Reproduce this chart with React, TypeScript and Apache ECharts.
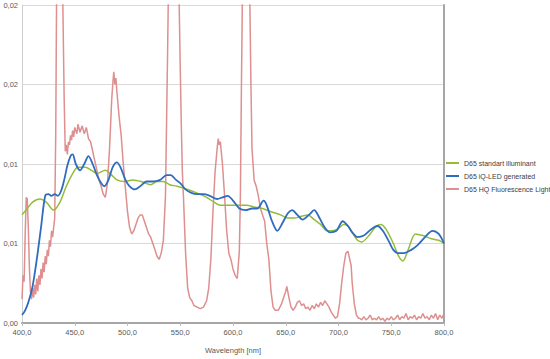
import React, { useEffect, useRef } from "react";
import * as echarts from "echarts";

// ---- data (wavelength nm, relative spectral power) ----
const seriesNames = [
  "D65 standart illuminant",
  "D65 iQ-LED generated",
  "D65 HQ Fluorescence Light",
];

const d65Standard: [number, number][] = [
  [400, 0.0068], [405, 0.0072], [410, 0.0076], [417, 0.0078], [423, 0.0076],
  [430, 0.0071], [436, 0.0076], [442, 0.0086], [448, 0.0094], [453, 0.0098],
  [460, 0.0098], [466, 0.0096], [471, 0.0094], [479, 0.0096], [485, 0.0093],
  [490, 0.0090], [497, 0.0089], [505, 0.0090], [513, 0.0089], [522, 0.0087],
  [528, 0.0089], [534, 0.0089], [540, 0.0087], [547, 0.0086], [557, 0.0084],
  [565, 0.0082], [575, 0.0079], [582, 0.0076], [588, 0.0074], [595, 0.0074],
  [604, 0.0074], [613, 0.0074], [620, 0.0073], [628, 0.0072], [636, 0.0070],
  [645, 0.0068], [652, 0.0066], [658, 0.0066], [664, 0.0067], [671, 0.0068],
  [677, 0.0065], [683, 0.0062], [689, 0.0058], [693, 0.0058], [699, 0.0059],
  [705, 0.0062], [709, 0.0061], [714, 0.0056], [718, 0.0052], [722, 0.0051],
  [730, 0.0056], [736, 0.0061], [740, 0.0062], [745, 0.0059], [752, 0.0050],
  [757, 0.0042], [761, 0.0039], [766, 0.0046], [773, 0.0056], [780, 0.0055],
  [788, 0.0053], [795, 0.0052], [800, 0.0050],
];

const iqLed: [number, number][] = [
  [400, 0.0005], [403, 0.0008], [406, 0.0013], [410, 0.0023], [414, 0.0040],
  [418, 0.0060], [422, 0.0080], [425, 0.0081], [428, 0.0080], [431, 0.0081],
  [434, 0.0080], [437, 0.0083], [440, 0.0090], [443, 0.0099], [446, 0.0105],
  [448, 0.0106], [451, 0.0100], [455, 0.0096], [459, 0.0100], [463, 0.0105],
  [467, 0.0100], [471, 0.0093], [475, 0.0088], [478, 0.0086], [482, 0.0090],
  [486, 0.0098], [490, 0.0101], [494, 0.0097], [498, 0.0090], [502, 0.0086],
  [507, 0.0084], [512, 0.0086], [518, 0.0089], [524, 0.0089], [531, 0.0090],
  [537, 0.0093], [541, 0.0093], [546, 0.0090], [550, 0.0088], [555, 0.0084],
  [560, 0.0082], [566, 0.0081], [572, 0.0081], [578, 0.0080], [585, 0.0078],
  [590, 0.0079], [595, 0.0080], [600, 0.0077], [606, 0.0072], [612, 0.0071],
  [618, 0.0072], [623, 0.0072], [629, 0.0077], [632, 0.0074], [637, 0.0064],
  [642, 0.0058], [647, 0.0063], [652, 0.0069], [656, 0.0071], [661, 0.0068],
  [666, 0.0065], [672, 0.0068], [677, 0.0071], [682, 0.0066], [687, 0.0060],
  [692, 0.0057], [698, 0.0058], [704, 0.0064], [709, 0.0061], [713, 0.0057],
  [718, 0.0054], [724, 0.0055], [731, 0.0059], [737, 0.0061], [742, 0.0058],
  [748, 0.0051], [752, 0.0046], [756, 0.0044], [762, 0.0044], [769, 0.0046],
  [775, 0.0049], [782, 0.0054], [789, 0.0058], [795, 0.0056], [800, 0.0050],
];

const hqFluorescent: [number, number][] = [
  [400, 0.0015], [401, 0.0030], [402, 0.0026], [403, 0.0055], [404, 0.0079],
  [405, 0.0078], [406, 0.0060], [407, 0.0035], [408, 0.0020], [409, 0.0015],
  [410, 0.0022], [411, 0.0016], [412, 0.0024], [413, 0.0018], [414, 0.0028],
  [415, 0.0020], [416, 0.0030], [417, 0.0024], [418, 0.0034], [419, 0.0028],
  [420, 0.0038], [421, 0.0032], [422, 0.0042], [423, 0.0037], [424, 0.0046],
  [425, 0.0042], [426, 0.0052], [427, 0.0048], [428, 0.0058], [429, 0.0054],
  [430, 0.0060], [431, 0.0066], [432, 0.0120], [433, 0.0230], [434.5, 0.0350],
  [437, 0.0350], [438.5, 0.0210], [440, 0.0140], [441, 0.0108], [442, 0.0112],
  [443, 0.0106], [444, 0.0114], [445, 0.0112], [446, 0.0118], [447, 0.0115],
  [448, 0.0121], [449, 0.0117], [450, 0.0123], [452, 0.0119], [453, 0.0125],
  [455, 0.0120], [457, 0.0124], [459, 0.0119], [461, 0.0123], [463, 0.0116],
  [465, 0.0114], [467, 0.0108], [469, 0.0102], [471, 0.0096], [473, 0.0090],
  [475, 0.0086], [477, 0.0081], [479, 0.0079], [481, 0.0088], [483, 0.0110],
  [485, 0.0140], [486, 0.0150], [487, 0.0158], [488, 0.0150], [489, 0.0154],
  [490, 0.0145], [492, 0.0130], [494, 0.0118], [496, 0.0100], [498, 0.0085],
  [500, 0.0070], [502, 0.0060], [504, 0.0056], [506, 0.0058], [508, 0.0062],
  [510, 0.0066], [512, 0.0068], [514, 0.0068], [516, 0.0064], [518, 0.0060],
  [520, 0.0056], [522, 0.0054], [524, 0.0050], [526, 0.0046], [528, 0.0042],
  [530, 0.0040], [532, 0.0044], [534, 0.0052], [536, 0.0080], [538, 0.0170],
  [539, 0.0220], [541, 0.0380], [544, 0.0500], [546.5, 0.0380], [548.5, 0.0220],
  [550, 0.0160], [551, 0.0125], [552, 0.0095], [553, 0.0080], [555, 0.0045],
  [557, 0.0022], [559, 0.0016], [561, 0.0014], [563, 0.0011], [566, 0.0010],
  [569, 0.0009], [572, 0.0010], [575, 0.0014], [577, 0.0022], [579, 0.0040],
  [581, 0.0070], [583, 0.0095], [585, 0.0110], [586, 0.0116], [587, 0.0112],
  [588, 0.0114], [590, 0.0100], [592, 0.0080], [594, 0.0058], [596, 0.0044],
  [598, 0.0040], [600, 0.0034], [602, 0.0030], [604, 0.0028], [606, 0.0045],
  [607, 0.0080], [608, 0.0150], [609, 0.0210], [611, 0.0350], [613, 0.0400],
  [615, 0.0300], [616, 0.0200], [617, 0.0150], [618, 0.0110], [620, 0.0090],
  [622, 0.0086], [624, 0.0080], [626, 0.0072], [628, 0.0068], [630, 0.0064],
  [632, 0.0050], [634, 0.0040], [636, 0.0020], [638, 0.0010], [640, 0.0008],
  [643, 0.0008], [646, 0.0012], [648, 0.0016], [650, 0.0020], [651, 0.0023],
  [653, 0.0016], [655, 0.0010], [657, 0.0008], [659, 0.0010], [661, 0.0013],
  [663, 0.0014], [665, 0.0011], [667, 0.0012], [669, 0.0009], [671, 0.0010],
  [673, 0.0008], [675, 0.0011], [677, 0.0009], [679, 0.0012], [681, 0.0010],
  [683, 0.0013], [685, 0.0011], [687, 0.0014], [689, 0.0012], [691, 0.0010],
  [693, 0.0007], [695, 0.0005], [697, 0.0003], [699, 0.0004], [701, 0.0012],
  [703, 0.0025], [705, 0.0036], [707, 0.0044], [709, 0.0045], [710, 0.0042],
  [712, 0.0036], [713, 0.0025], [715, 0.0012], [717, 0.0005], [719, 0.0003],
  [720, 0.0003], [722, 0.0002], [724, 0.0004], [726, 0.0002], [728, 0.0003],
  [730, 0.0005], [732, 0.0002], [734, 0.0003], [736, 0.0002], [738, 0.0004],
  [740, 0.0002], [742, 0.0003], [744, 0.0001], [746, 0.0003], [748, 0.0002],
  [750, 0.0004], [752, 0.0002], [754, 0.0003], [756, 0.0005], [758, 0.0002],
  [760, 0.0004], [762, 0.0003], [764, 0.0006], [766, 0.0002], [768, 0.0004],
  [770, 0.0003], [772, 0.0005], [774, 0.0002], [776, 0.0004], [778, 0.0003],
  [780, 0.0006], [782, 0.0003], [784, 0.0004], [786, 0.0002], [788, 0.0005],
  [790, 0.0003], [792, 0.0006], [794, 0.0002], [796, 0.0005], [798, 0.0003],
  [800, 0.0006],
];

const yTickLabels = ["0,00", "0,01", "0,01", "0,02", "0,02"];
const xAxisTitle = "Wavelength [nm]";

const colors = ["#94bb3a", "#2f6cbf", "#de8f8f"];

export default function App() {
  const ref = useRef<HTMLDivElement>(null);

  useEffect(() => {
    if (!ref.current) return;
    const chart = echarts.init(ref.current, null, { renderer: "svg" });
    const font = "'Liberation Sans', Arial, sans-serif";
    const labelColor = "#595959";

    chart.setOption({
      animation: false,
      backgroundColor: "#ffffff",
      grid: { left: 22, right: 106, top: 5, bottom: 31 },
      legend: {
        orient: "vertical",
        left: 446,
        top: 158,
        icon: "rect",
        itemWidth: 13,
        itemHeight: 2,
        itemGap: 3,
        padding: 0,
        textStyle: {
          fontFamily: font,
          fontSize: 7,
          color: "#404040",
          lineHeight: 10,
        },
        data: seriesNames,
      },
      xAxis: [
        {
          type: "value",
          min: 400,
          max: 800,
          interval: 50,
          name: xAxisTitle,
          nameLocation: "middle",
          nameGap: 23,
          nameTextStyle: { fontFamily: font, fontSize: 7.5, color: labelColor },
          axisLine: { show: true, lineStyle: { color: "#bfbfbf", width: 1 } },
          axisTick: { show: true, length: 3, lineStyle: { color: "#bfbfbf" } },
          axisLabel: {
            fontFamily: font,
            fontSize: 7.5,
            color: labelColor,
            margin: 5,
            formatter: (v: number) => v.toFixed(1).replace(".", ","),
          },
          splitLine: { show: false },
        },
        {
          type: "value",
          position: "top",
          min: 400,
          max: 800,
          axisLine: { show: true, lineStyle: { color: "#a6a6a6", width: 2 } },
          axisTick: { show: false },
          axisLabel: { show: false },
          splitLine: { show: false },
        },
      ],
      yAxis: [
        {
          type: "value",
          min: 0,
          max: 0.02,
          interval: 0.005,
          axisLine: { show: true, lineStyle: { color: "#d0d0d0", width: 1 } },
          axisTick: { show: false },
          axisLabel: {
            fontFamily: font,
            fontSize: 7.5,
            color: labelColor,
            margin: 4,
            formatter: (v: number) => yTickLabels[Math.round(v / 0.005)] ?? "",
          },
          splitLine: { show: true, lineStyle: { color: "#d9d9d9", width: 1 } },
        },
        {
          type: "value",
          position: "right",
          min: 0,
          max: 0.02,
          axisLine: { show: true, lineStyle: { color: "#a6a6a6", width: 2 } },
          axisTick: { show: false },
          axisLabel: { show: false },
          splitLine: { show: false },
        },
      ],
      series: [
        {
          name: seriesNames[2],
          type: "line",
          data: hqFluorescent,
          showSymbol: false,
          clip: true,
          color: colors[2],
          lineStyle: { width: 1.5, color: colors[2] },
          z: 1,
        },
        {
          name: seriesNames[0],
          type: "line",
          data: d65Standard,
          showSymbol: false,
          smooth: 0.3,
          clip: true,
          color: colors[0],
          lineStyle: { width: 1.5, color: colors[0] },
          z: 2,
        },
        {
          name: seriesNames[1],
          type: "line",
          data: iqLed,
          showSymbol: false,
          smooth: 0.3,
          clip: true,
          color: colors[1],
          lineStyle: { width: 1.8, color: colors[1] },
          z: 3,
        },
      ],
    });

    return () => chart.dispose();
  }, []);

  return (
    <div
      ref={ref}
      style={{ position: "absolute", left: 0, top: 0, width: 550, height: 359 }}
    />
  );
}
